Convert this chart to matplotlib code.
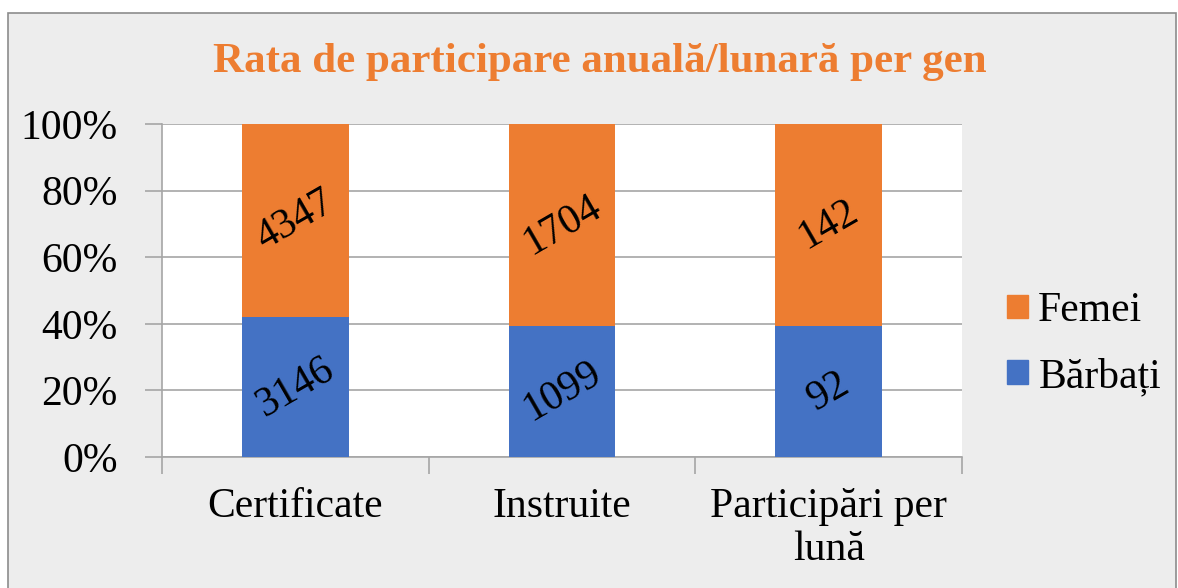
import matplotlib
matplotlib.use('Agg')
import matplotlib.pyplot as plt
from matplotlib.patches import Rectangle, Patch
import numpy as np

categories = ['Certificate', 'Instruite', 'Participări per\nlună']
barbati = [3146, 1099, 92]
femei = [4347, 1704, 142]
title = 'Rata de participare anuală/lunară per gen'

plt.rcParams['font.family'] = ['Liberation Serif', 'DejaVu Serif']

orange = '#ED7D31'
blue = '#4472C4'
grey = '#A6A6A6'
fs = 30

fig = plt.figure(figsize=(11.78, 5.88), dpi=100)
fig.patch.set_facecolor('white')
# chart area background with border
W, H = 1178, 588
fig.patches.append(Rectangle((8 / W, -0.01), (1176 - 8) / W, 1.01 - 13 / H, transform=fig.transFigure,
                             facecolor='#EDEDED', edgecolor='#8C8C8C', linewidth=1.2, zorder=-5))

ax = fig.add_axes([162 / W, 1 - 457 / H, (962 - 162) / W, (457 - 124) / H])
ax.set_facecolor('white')

tot = np.array(barbati) + np.array(femei)
pb = np.array(barbati) / tot * 100
pf = np.array(femei) / tot * 100
x = np.arange(len(categories))
ax.bar(x, pb, width=0.4, color=blue, zorder=3)
ax.bar(x, pf, width=0.4, bottom=pb, color=orange, zorder=3)

for i in range(len(x)):
    ax.text(x[i], pb[i] / 2, str(barbati[i]), ha='center', va='center', rotation=30, fontsize=fs, zorder=4)
    ax.text(x[i], pb[i] + pf[i] / 2, str(femei[i]), ha='center', va='center', rotation=30, fontsize=fs, zorder=4)

ax.set_xlim(-0.5, 2.5)
ax.set_ylim(0, 100)
ax.set_yticks(np.arange(0, 101, 20))
ax.set_yticklabels([f'{v}%' for v in range(0, 101, 20)], fontsize=fs)
ax.yaxis.grid(True, color=grey, linewidth=1.2, zorder=0)
ax.tick_params(axis='y', length=12, color=grey, width=1.2, pad=20)

ax.set_xticks(x)
ax.set_xticklabels(categories, fontsize=fs, linespacing=1.15)
ax.set_xticks([-0.5, 0.5, 1.5, 2.5], minor=True)
ax.tick_params(axis='x', which='major', length=0, pad=22)
ax.tick_params(axis='x', which='minor', length=12, color=grey, width=1.2)

for s in ['top', 'right']:
    ax.spines[s].set_visible(False)
ax.spines['left'].set_color(grey)
ax.spines['bottom'].set_color(grey)
ax.spines['left'].set_linewidth(1.2)
ax.spines['bottom'].set_linewidth(1.2)

fig.text(600 / W, 1 - 62 / H, title, ha='center', va='center', fontsize=31, fontweight='bold', color=orange)

handles = [Patch(color=orange, label='Femei'), Patch(color=blue, label='Bărbați')]
fig.legend(handles=handles, loc='center left', bbox_to_anchor=(1007 / W, 1 - 344 / H), frameon=False,
           fontsize=fs, handlelength=0.5, handleheight=0.5, handletextpad=0.25, labelspacing=0.65,
           borderaxespad=0, borderpad=0)

fig.savefig('out.png', dpi=100)
